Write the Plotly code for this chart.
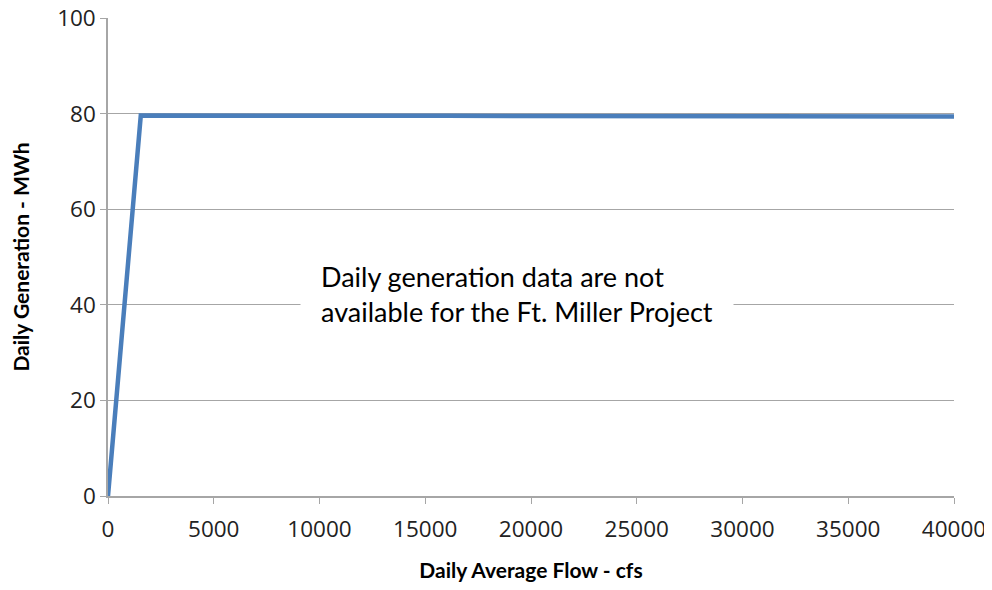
import plotly.graph_objects as go

# Flow (cfs) vs daily generation (MWh)
flow_cfs = [0, 1550, 16000, 31000, 40000]
generation_mwh = [0, 79.6, 79.55, 79.5, 79.4]

x_ticks = [0, 5000, 10000, 15000, 20000, 25000, 30000, 35000, 40000]
x_labels = [str(v) for v in x_ticks]
y_ticks = [0, 20, 40, 60, 80, 100]

note = "Daily generation data are not<br>available for the Ft. Miller Project"

fig = go.Figure()
fig.add_trace(go.Scatter(
    x=flow_cfs,
    y=generation_mwh,
    mode='lines',
    line=dict(color='#4a7ebb', width=4.5),
    showlegend=False
))

fig.add_annotation(
    x=0.5, y=0.5, xref='paper', yref='paper',
    text=note, showarrow=False, align='left',
    font=dict(family='Lato', size=27, color='#000000'),
    bgcolor='#ffffff', borderpad=20,
    xshift=-14, yshift=-37
)

# page body adds an 8px offset, so the figure is shifted by that much
fig.update_layout(
    width=984, height=574,
    paper_bgcolor='#ffffff',
    plot_bgcolor='#ffffff',
    margin=dict(l=100, r=38, t=10, b=86),
    font=dict(family='Open Sans', color='#000000'),
    xaxis=dict(
        range=[0, 40000.01], tickvals=x_ticks, ticktext=x_labels, showgrid=False,
        showline=True, linecolor='#a6a6a6', linewidth=1.5,
        ticks='outside', tickcolor='#a6a6a6', ticklen=6,
        tickfont=dict(size=22.5, color='#222222'), zeroline=False, automargin=False,
        ticklabeloverflow='allow', ticklabelstandoff=6,
        title=dict(text='<b>Daily Average Flow - cfs</b>',
                   font=dict(family='Lato', size=21), standoff=30)
    ),
    yaxis=dict(
        range=[0, 100.01], tickvals=y_ticks, showgrid=True,
        gridcolor='#a6a6a6', gridwidth=1,
        showline=True, linecolor='#a6a6a6', linewidth=1.5,
        ticks='outside', tickcolor='#a6a6a6', ticklen=6,
        tickfont=dict(size=22.5, color='#222222'), zeroline=False, automargin=False,
        ticklabeloverflow='allow',
        title=dict(text='<b>Daily Generation - MWh</b>',
                   font=dict(family='Lato', size=21), standoff=30)
    )
)

fig.write_html("out.html")
